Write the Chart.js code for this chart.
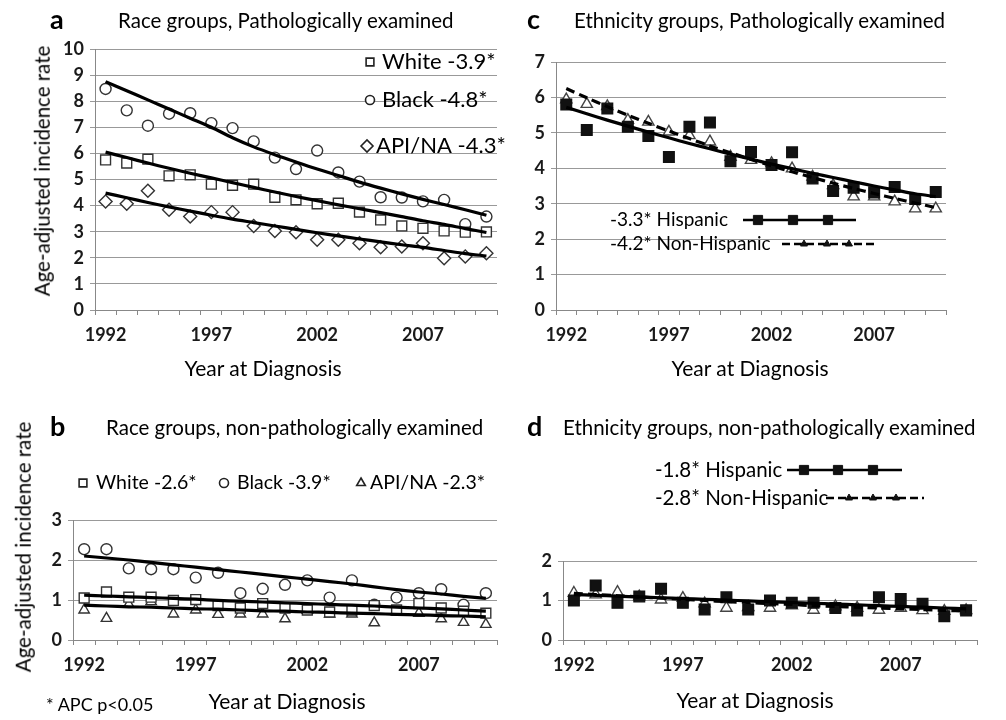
<!DOCTYPE html>
<html>
<head>
<meta charset="utf-8">
<script src="https://cdn.jsdelivr.net/npm/chart.js@4.4.1/dist/chart.umd.min.js"></script>
<style>
  body { margin: 0; background: #fff; font-family: 'Lato', sans-serif; color: #000; }
  #page { position: relative; width: 1006px; height: 720px; overflow: hidden; }
  canvas { position: absolute; left: 0; top: 0; }
  .txt { position: absolute; white-space: nowrap; line-height: 1; }
  .letter { font-weight: bold; font-size: 27px; }
  .title { font-size: 20.5px; }
  .axt { font-size: 21px; transform: translate(-50%, -50%); }
  .yt { font-size: 20.5px; transform: translate(-50%, -50%) rotate(-90deg); }
</style>
</head>
<body>
<div id="page">
  <canvas id="chartA" width="1006" height="720"></canvas>
  <canvas id="chartB" width="1006" height="720"></canvas>
  <canvas id="chartC" width="1006" height="720"></canvas>
  <canvas id="chartD" width="1006" height="720"></canvas>

  <div class="txt letter" style="left:50px; top:5px;">a</div>
  <div class="txt title" style="left:118px; top:10px;">Race groups, Pathologically examined</div>
  <div class="txt letter" style="left:527px; top:5px;">c</div>
  <div class="txt title" style="left:574px; top:10px;">Ethnicity groups, Pathologically examined</div>
  <div class="txt letter" style="left:50px; top:412px;">b</div>
  <div class="txt title" style="left:106px; top:417px;">Race groups, non-pathologically examined</div>
  <div class="txt letter" style="left:527px; top:412px;">d</div>
  <div class="txt title" style="left:563px; top:417px;">Ethnicity groups, non-pathologically examined</div>

  <div class="txt yt" style="left:42px; top:171px;">Age-adjusted incidence rate</div>
  <div class="txt yt" style="left:23px; top:547px;">Age-adjusted incidence rate</div>

  <div class="txt axt" style="left:263px; top:367px;">Year at Diagnosis</div>
  <div class="txt axt" style="left:750px; top:367px;">Year at Diagnosis</div>
  <div class="txt axt" style="left:287px; top:700px;">Year at Diagnosis</div>
  <div class="txt axt" style="left:755px; top:699px;">Year at Diagnosis</div>

  <div class="txt" style="left:46px; top:695px; font-size:18px;">* APC p&lt;0.05</div>
</div>

<script>
// categories
const years = ['1992', '1993', '1994', '1995', '1996', '1997', '1998', '1999', '2000', '2001',
               '2002', '2003', '2004', '2005', '2006', '2007', '2008', '2009', '2010'];
const tickYears = ['1992', '1997', '2002', '2007'];

// a : race groups, pathologically examined
const aWhite = [5.75, 5.63, 5.78, 5.14, 5.18, 4.82, 4.78, 4.82, 4.32, 4.22, 4.07, 4.09, 3.75, 3.45, 3.22, 3.13, 3.03, 2.98, 2.99];
const aBlack = [8.47, 7.65, 7.06, 7.52, 7.54, 7.16, 6.97, 6.46, 5.84, 5.40, 6.11, 5.27, 4.92, 4.32, 4.31, 4.16, 4.22, 3.29, 3.58];
const aApi = [4.16, 4.07, 4.57, 3.84, 3.58, 3.75, 3.75, 3.22, 3.03, 2.98, 2.69, 2.69, 2.56, 2.40, 2.43, 2.56, 1.98, 2.05, 2.17];
const aWhiteFit = [6.05, 5.84, 5.63, 5.43, 5.24, 5.06, 4.88, 4.70, 4.52, 4.35, 4.19, 4.03, 3.88, 3.73, 3.58, 3.42, 3.28, 3.12, 2.97];
const aBlackFit = [8.75, 8.40, 8.05, 7.70, 7.35, 7.00, 6.60, 6.25, 5.95, 5.67, 5.40, 5.15, 4.90, 4.67, 4.45, 4.24, 4.04, 3.84, 3.63];
const aApiFit = [4.48, 4.30, 4.12, 3.95, 3.79, 3.63, 3.48, 3.35, 3.22, 3.09, 2.96, 2.84, 2.72, 2.61, 2.50, 2.40, 2.28, 2.16, 2.07];

// b : race groups, non-pathologically examined
const bWhite = [1.05, 1.20, 1.07, 1.07, 0.99, 1.01, 0.86, 0.80, 0.91, 0.80, 0.75, 0.70, 0.75, 0.86, 0.75, 0.91, 0.80, 0.72, 0.67];
const bBlack = [2.27, 2.27, 1.79, 1.77, 1.77, 1.56, 1.68, 1.17, 1.28, 1.38, 1.49, 1.06, 1.49, 0.88, 1.06, 1.17, 1.27, 0.88, 1.17];
const bApi = [0.75, 0.54, 0.89, 0.96, 0.65, 0.75, 0.64, 0.65, 0.65, 0.53, 0.75, 0.65, 0.65, 0.43, 0.70, 0.67, 0.53, 0.44, 0.39];
const bWhiteFit = [1.12, 1.10, 1.08, 1.06, 1.04, 1.02, 0.99, 0.97, 0.95, 0.93, 0.91, 0.89, 0.87, 0.85, 0.82, 0.80, 0.78, 0.75, 0.72];
const bBlackFit = [2.10, 2.05, 2.00, 1.94, 1.88, 1.82, 1.76, 1.70, 1.64, 1.58, 1.52, 1.46, 1.40, 1.33, 1.26, 1.20, 1.15, 1.09, 1.04];
const bApiFit = [0.87, 0.85, 0.83, 0.82, 0.80, 0.78, 0.77, 0.75, 0.73, 0.72, 0.70, 0.69, 0.67, 0.66, 0.64, 0.63, 0.61, 0.60, 0.58];

// c : ethnicity groups, pathologically examined
const cHisp = [5.80, 5.08, 5.69, 5.17, 4.91, 4.32, 5.17, 5.29, 4.20, 4.46, 4.09, 4.45, 3.71, 3.36, 3.45, 3.32, 3.47, 3.13, 3.33];
const cNonHisp = [5.94, 5.81, 5.75, 5.36, 5.31, 5.03, 4.93, 4.75, 4.32, 4.23, 4.14, 3.99, 3.76, 3.52, 3.20, 3.20, 3.06, 2.86, 2.86];
const cHispFit = [5.72, 5.54, 5.36, 5.19, 5.02, 4.86, 4.70, 4.55, 4.40, 4.26, 4.12, 3.99, 3.86, 3.74, 3.62, 3.50, 3.39, 3.28, 3.20];
const cNonHispFit = [6.25, 5.99, 5.74, 5.50, 5.27, 5.05, 4.84, 4.63, 4.44, 4.25, 4.07, 3.90, 3.74, 3.58, 3.43, 3.29, 3.15, 3.02, 2.89];

// d : ethnicity groups, non-pathologically examined
const dHisp = [1.00, 1.38, 0.94, 1.10, 1.30, 0.94, 0.77, 1.08, 0.77, 1.00, 0.94, 0.94, 0.81, 0.75, 1.08, 1.04, 0.92, 0.60, 0.75];
const dNonHisp = [1.19, 1.15, 1.21, 1.10, 1.02, 1.06, 0.92, 0.81, 0.83, 0.81, 0.87, 0.76, 0.85, 0.81, 0.76, 0.81, 0.75, 0.73, 0.75];
const dHispFit = [1.15, 1.13, 1.11, 1.09, 1.07, 1.05, 1.03, 1.01, 0.99, 0.97, 0.95, 0.93, 0.91, 0.89, 0.87, 0.85, 0.83, 0.81, 0.79];
const dNonHispFit = [1.18, 1.15, 1.12, 1.09, 1.06, 1.03, 1.00, 0.97, 0.95, 0.92, 0.90, 0.87, 0.85, 0.83, 0.81, 0.79, 0.77, 0.75, 0.73];

const FONT = 'Lato';
const tickFont = { family: FONT, size: 18, weight: 'bold' };
const Y_W = 40;   // y axis box width
const X_H = 40;   // x axis box height

// legend drawn straight onto the canvas, positions in page pixels
const panelLegend = {
  id: 'panelLegend',
  afterDraw(chart, args, opts) {
    const ctx = chart.ctx;
    (opts.items || []).forEach(it => {
      ctx.save();
      if (it.line) {
        ctx.strokeStyle = '#000';
        ctx.lineWidth = 2.5;
        ctx.setLineDash(it.line.dash || []);
        ctx.beginPath();
        ctx.moveTo(it.line.x1, it.y);
        ctx.lineTo(it.line.x2, it.y);
        ctx.stroke();
        ctx.setLineDash([]);
      }
      (it.marks || []).forEach(mx => {
        ctx.fillStyle = it.fill;
        ctx.strokeStyle = it.stroke;
        ctx.lineWidth = it.bw;
        Chart.helpers.drawPoint(ctx, { pointStyle: it.style, radius: it.r, rotation: 0, borderWidth: it.bw }, mx, it.y);
      });
      ctx.fillStyle = '#000';
      ctx.font = (it.size || 20) + 'px ' + FONT;
      ctx.textAlign = 'left';
      ctx.textBaseline = 'middle';
      ctx.fillText(it.text, it.tx, it.y);
      ctx.restore();
    });
  }
};

function markers(label, data, style, r, fill, stroke) {
  return {
    label: label, data: data, showLine: false, order: 2,
    pointStyle: style, pointRadius: r, pointHoverRadius: r,
    pointBackgroundColor: fill, pointBorderColor: stroke, pointBorderWidth: 1.4
  };
}

function fit(label, data, dash) {
  return {
    label: label, data: data, order: 1, pointRadius: 0, borderColor: '#000',
    borderWidth: 3.2, borderDash: dash || [], tension: 0.3, fill: false
  };
}

function makePanel(id, box, yMax, datasets, legendItems) {
  return new Chart(document.getElementById(id), {
    type: 'line',
    data: { labels: years, datasets: datasets },
    options: {
      responsive: false,
      animation: false,
      events: [],
      layout: {
        padding: { left: box.left - Y_W, top: box.top, right: 1006 - box.right, bottom: 720 - box.bottom - X_H }
      },
      scales: {
        x: {
          offset: true,
          grid: { drawOnChartArea: false, drawTicks: true, tickLength: 5, offset: true, color: '#888' },
          border: { color: '#888' },
          ticks: {
            autoSkip: false, maxRotation: 0, padding: 9, font: tickFont, color: '#1a1a1a',
            callback: (v, i) => tickYears.includes(years[i]) ? years[i] : ''
          },
          afterFit: s => { s.height = X_H; }
        },
        y: {
          min: 0, max: yMax,
          grid: { color: '#999', tickLength: 5 },
          border: { color: '#888' },
          ticks: { stepSize: 1, padding: 6, font: tickFont, color: '#1a1a1a' },
          afterFit: s => { s.width = Y_W; }
        }
      },
      plugins: {
        legend: { display: false },
        tooltip: { enabled: false },
        panelLegend: { items: legendItems }
      }
    },
    plugins: [panelLegend]
  });
}

// panel a
makePanel('chartA', { left: 95, top: 49, right: 497, bottom: 310 }, 10, [
  fit('White trend', aWhiteFit),
  fit('Black trend', aBlackFit),
  fit('API/NA trend', aApiFit),
  markers('White -3.9*', aWhite, 'rect', 7, '#fff', '#333'),
  markers('Black -4.8*', aBlack, 'circle', 5.5, '#fff', '#333'),
  markers('API/NA -4.3*', aApi, 'rectRot', 6.5, '#fff', '#333')
], [
  { text: 'White -3.9*', tx: 382, y: 62, size: 22, style: 'rect', r: 5.5, fill: '#fff', stroke: '#222', bw: 1.6, marks: [370] },
  { text: 'Black -4.8*', tx: 382, y: 100, size: 22, style: 'circle', r: 4.5, fill: '#fff', stroke: '#222', bw: 1.6, marks: [370] },
  { text: 'API/NA -4.3*', tx: 376, y: 146, size: 22, style: 'rectRot', r: 6, fill: '#fff', stroke: '#222', bw: 1.6, marks: [367] }
]);

// panel b
makePanel('chartB', { left: 73, top: 520, right: 497, bottom: 640 }, 3, [
  fit('White trend', bWhiteFit),
  fit('Black trend', bBlackFit),
  fit('API/NA trend', bApiFit),
  markers('White -2.6*', bWhite, 'rect', 7, '#fff', '#333'),
  markers('Black -3.9*', bBlack, 'circle', 5.5, '#fff', '#333'),
  markers('API/NA -2.3*', bApi, 'triangle', 6, '#fff', '#333')
], [
  { text: 'White -2.6*', tx: 96, y: 483, size: 19.5, style: 'rect', r: 5.5, fill: '#fff', stroke: '#222', bw: 1.6, marks: [83] },
  { text: 'Black -3.9*', tx: 237, y: 483, size: 19.5, style: 'circle', r: 4.5, fill: '#fff', stroke: '#222', bw: 1.6, marks: [224] },
  { text: 'API/NA -2.3*', tx: 370, y: 483, size: 19.5, style: 'triangle', r: 5, fill: '#fff', stroke: '#222', bw: 1.6, marks: [361] }
]);

// panel c
makePanel('chartC', { left: 556, top: 62, right: 946, bottom: 310 }, 7, [
  fit('Hispanic trend', cHispFit),
  fit('Non-Hispanic trend', cNonHispFit, [9, 5]),
  markers('-3.3* Hispanic', cHisp, 'rect', 7.5, '#111', '#111'),
  markers('-4.2* Non-Hispanic', cNonHisp, 'triangle', 6.5, '#fff', '#444')
], [
  { text: '-3.3* Hispanic', tx: 610, y: 220, size: 19, style: 'rect', r: 6.5, fill: '#111', stroke: '#111', bw: 1, marks: [758, 793, 828], line: { x1: 743, x2: 856 } },
  { text: '-4.2* Non-Hispanic', tx: 610, y: 244, size: 19, style: 'triangle', r: 4, fill: '#111', stroke: '#111', bw: 1, marks: [804, 827, 849], line: { x1: 782, x2: 878, dash: [8, 4] } }
]);

// panel d
makePanel('chartD', { left: 563, top: 561, right: 977, bottom: 640 }, 2, [
  fit('Hispanic trend', dHispFit),
  fit('Non-Hispanic trend', dNonHispFit, [9, 5]),
  markers('-1.8* Hispanic', dHisp, 'rect', 7.5, '#111', '#111'),
  markers('-2.8* Non-Hispanic', dNonHisp, 'triangle', 6.5, '#fff', '#444')
], [
  { text: '-1.8* Hispanic', tx: 655, y: 470, size: 20.5, style: 'rect', r: 6.5, fill: '#111', stroke: '#111', bw: 1, marks: [804, 838, 873], line: { x1: 787, x2: 902 } },
  { text: '-2.8* Non-Hispanic', tx: 655, y: 498, size: 20.5, style: 'triangle', r: 4, fill: '#111', stroke: '#111', bw: 1, marks: [849, 873, 896], line: { x1: 826, x2: 924, dash: [8, 4] } }
]);
</script>
</body>
</html>
